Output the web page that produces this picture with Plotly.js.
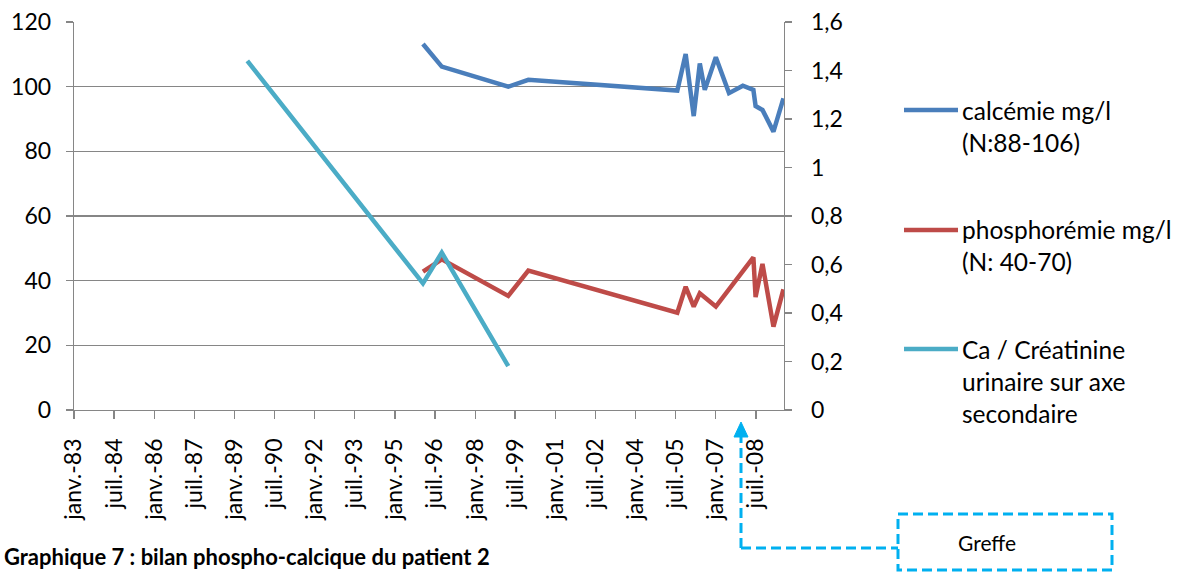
<!DOCTYPE html>
<html>
<head>
<meta charset="utf-8">
<script src="https://cdn.plot.ly/plotly-3.0.1.min.js"></script>
<style>
html,body{margin:0;padding:0;background:#fff;}
#chart{width:1185px;height:572px;}
</style>
</head>
<body>
<div id="chart"></div>
<script>
// ---- data ----
const dates = ['1989-06-25','1996-01-19','1996-10-02','1999-03-29','1999-12-28','2005-07-24','2005-11-15','2006-03-05','2006-05-27','2006-08-03','2007-01-01','2007-06-30','2008-01-05','2008-05-28','2008-06-27','2008-09-29','2009-02-26','2009-07-12'];
const calcemie     = [null,113.2,106.2,100.0,102.1,98.8,110.1,90.9,107.2,99.0,109.1,98.0,100.3,99.0,94.0,92.8,86.1,96.4];
const phosphoremie = [null,42.8,46.6,35.3,43.1,30.1,38.1,32.0,36.1,null,32.0,null,null,47.2,34.9,45.2,25.8,37.3];
const caCreatinine = [1.44,0.522,0.649,0.181,null,null,null,null,null,null,null,null,null,null,null,null,null,null];

const seriesNames = ['calcémie mg/l<br>(N:88-106)','phosphorémie mg/l<br>(N: 40-70)','Ca / Créatinine<br>urinaire sur axe<br>secondaire'];
const seriesColors = ['#4A7EBB','#BE4B48','#4BACC6'];

const xTickVals = ['1983-01-01','1984-07-01','1986-01-01','1987-07-01','1989-01-01','1990-07-01','1992-01-01','1993-07-01','1995-01-01','1996-07-01','1998-01-01','1999-07-01','2001-01-01','2002-07-01','2004-01-01','2005-07-01','2007-01-01','2008-07-01'];
const xTickText = ['janv.-83','juil.-84','janv.-86','juil.-87','janv.-89','juil.-90','janv.-92','juil.-93','janv.-95','juil.-96','janv.-98','juil.-99','janv.-01','juil.-02','janv.-04','juil.-05','janv.-07','juil.-08'];
const xRange = ['1983-01-01','2009-07-20'];
const yTickVals = [0,20,40,60,80,100,120];
const y2TickVals = [0,0.2,0.4,0.6,0.8,1,1.2,1.4,1.6];
const y2TickText = ['0','0,2','0,4','0,6','0,8','1','1,2','1,4','1,6'];
const figureCaption = 'Graphique 7 : bilan phospho-calcique du patient 2';
const graftLabel = 'Greffe';

// ---- layout helpers (pixel -> paper) ----
const L = 74, R = 784, T = 22, B = 410, W = 1185, H = 572;
const px = x => (x - L) / (R - L);
const py = y => (B - y) / (B - T);

const FONT = 'Lato, "Open Sans", sans-serif';
const GRID = '#868686';
const ACC = '#00B0F0';

const traces = [
  {x: dates, y: calcemie, name: seriesNames[0], mode: 'lines', connectgaps: true,
   line: {color: seriesColors[0], width: 4.5}, yaxis: 'y'},
  {x: dates, y: phosphoremie, name: seriesNames[1], mode: 'lines', connectgaps: true,
   line: {color: seriesColors[1], width: 4.5}, yaxis: 'y'},
  {x: dates, y: caCreatinine, name: seriesNames[2], mode: 'lines', connectgaps: true,
   line: {color: seriesColors[2], width: 4.5}, yaxis: 'y2'}
];

const shapes = [];
const annotations = [];

// manual legend
const legendY = [110, 230, 349];
const legendTextMid = [126, 246, 381];
for (let i = 0; i < 3; i++) {
  shapes.push({type: 'line', xref: 'paper', yref: 'paper',
    x0: px(904), x1: px(958), y0: py(legendY[i]), y1: py(legendY[i]),
    line: {color: seriesColors[i], width: 4.5}});
  annotations.push({xref: 'paper', yref: 'paper', x: px(960), y: py(legendTextMid[i]),
    xanchor: 'left', yanchor: 'middle', align: 'left', showarrow: false,
    text: seriesNames[i], font: {family: FONT, size: 24.5, color: '#000'}});
}

// Greffe callout
const dash = '10px,5px';
shapes.push({type: 'line', xref: 'paper', yref: 'paper', x0: px(741), x1: px(741), y0: py(548), y1: py(436),
  line: {color: ACC, width: 3, dash: dash}});
shapes.push({type: 'line', xref: 'paper', yref: 'paper', x0: px(741), x1: px(898), y0: py(548), y1: py(548),
  line: {color: ACC, width: 3, dash: dash}});
shapes.push({type: 'rect', xref: 'paper', yref: 'paper', x0: px(898), x1: px(1112), y0: py(514), y1: py(570),
  line: {color: ACC, width: 3, dash: dash}});
shapes.push({type: 'path', xref: 'paper', yref: 'paper',
  path: `M${px(741)},${py(422)} L${px(748)},${py(437)} L${px(734)},${py(437)} Z`,
  fillcolor: ACC, line: {color: ACC, width: 1}});
annotations.push({xref: 'paper', yref: 'paper', x: px(987), y: py(542), xanchor: 'center', yanchor: 'middle',
  showarrow: false, text: graftLabel, font: {family: FONT, size: 21, color: '#000'}});

// caption, kept fully inside the page
annotations.push({xref: 'paper', yref: 'paper', x: px(2), y: py(572), xanchor: 'left', yanchor: 'bottom',
  showarrow: false, text: '<b>' + figureCaption + '</b>', font: {family: FONT, size: 22, color: '#000'}});

const layout = {
  width: W, height: H,
  margin: {l: L, r: W - R, t: T, b: H - B, pad: 0},
  paper_bgcolor: '#fff', plot_bgcolor: '#fff',
  showlegend: false,
  font: {family: FONT, size: 23, color: '#000'},
  xaxis: {type: 'date', range: xRange, tickmode: 'array', tickvals: xTickVals, ticktext: xTickText,
    tickangle: -90, ticks: 'outside', ticklen: 8, tickwidth: 1.3, tickcolor: GRID,
    showline: true, linecolor: GRID, linewidth: 1.3, showgrid: false, zeroline: false,
    ticklabelstandoff: 10, tickfont: {family: FONT, size: 23, color: '#000'}},
  yaxis: {range: [0, 120], tickmode: 'array', tickvals: yTickVals, ticks: 'outside', ticklen: 7,
    tickwidth: 1.3, tickcolor: GRID, showline: true, linecolor: GRID, linewidth: 1.3,
    showgrid: true, gridcolor: GRID, gridwidth: 1.3, zeroline: false, ticklabelstandoff: 10,
    tickfont: {family: FONT, size: 23, color: '#000'}},
  yaxis2: {range: [0, 1.6], overlaying: 'y', side: 'right', tickmode: 'array', tickvals: y2TickVals,
    ticktext: y2TickText, ticks: 'outside', ticklen: 7, tickwidth: 1.3, tickcolor: GRID,
    showline: true, linecolor: GRID, linewidth: 1.3, showgrid: false, zeroline: false,
    ticklabelstandoff: 14, tickfont: {family: FONT, size: 23, color: '#000'}},
  shapes: shapes,
  annotations: annotations,
  hovermode: false
};

Plotly.newPlot('chart', traces, layout, {staticPlot: true, displayModeBar: false});
</script>
</body>
</html>
